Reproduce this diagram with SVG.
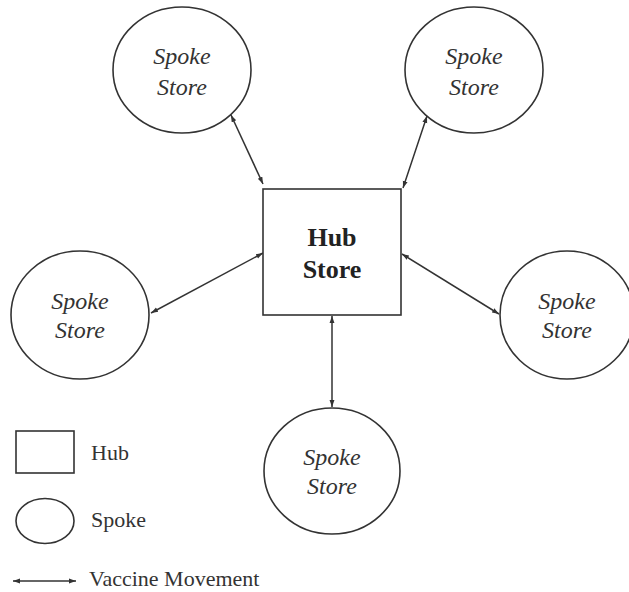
<svg xmlns="http://www.w3.org/2000/svg" width="629" height="592" viewBox="0 0 629 592">
<style>
.shape{fill:#fff;stroke:#333;stroke-width:1.6}
.sp{font-family:"Liberation Serif",serif;font-style:italic;font-size:24px;fill:#333;text-anchor:middle}
.hub{font-family:"Liberation Serif",serif;font-weight:bold;font-size:26px;fill:#222;text-anchor:middle}
.lg{font-family:"Liberation Serif",serif;font-size:22px;fill:#333}
.con{stroke:#333;stroke-width:1.5;fill:none;marker-start:url(#ah);marker-end:url(#ah)}
</style>
<defs>
<marker id="ah" viewBox="0 0 10 10" refX="10" refY="5" markerWidth="7" markerHeight="7" markerUnits="userSpaceOnUse" orient="auto-start-reverse">
<path d="M0,1.5 L10,5 L0,8.5 z" fill="#333"/>
</marker>
</defs>
<rect width="629" height="592" fill="#fff"/>
<g id="connectors">
<line class="con" x1="231" y1="115" x2="263" y2="184"/>
<line class="con" x1="403" y1="188" x2="427" y2="116"/>
<line class="con" x1="263" y1="253" x2="151" y2="313"/>
<line class="con" x1="402" y1="254" x2="499" y2="314"/>
<line class="con" x1="332" y1="316" x2="332" y2="407"/>
<line class="con" x1="13" y1="581" x2="76" y2="581"/>
</g>
<g id="hub">
<rect class="shape" x="263" y="189" width="138" height="126"/>
<text class="hub" x="332" y="246">Hub</text>
<text class="hub" x="332" y="278">Store</text>
</g>
<g id="spoke-top-left">
<ellipse class="shape" cx="182" cy="70" rx="69" ry="63"/>
<text class="sp" x="182" y="64">Spoke</text>
<text class="sp" x="182" y="95">Store</text>
</g>
<g id="spoke-top-right">
<ellipse class="shape" cx="474" cy="70" rx="69" ry="63"/>
<text class="sp" x="474" y="64">Spoke</text>
<text class="sp" x="474" y="95">Store</text>
</g>
<g id="spoke-left">
<ellipse class="shape" cx="80" cy="315" rx="69" ry="64"/>
<text class="sp" x="80" y="309">Spoke</text>
<text class="sp" x="80" y="338">Store</text>
</g>
<g id="spoke-right">
<ellipse class="shape" cx="567" cy="315" rx="67" ry="64"/>
<text class="sp" x="567" y="309">Spoke</text>
<text class="sp" x="567" y="338">Store</text>
</g>
<g id="spoke-bottom">
<ellipse class="shape" cx="332" cy="471" rx="68" ry="63"/>
<text class="sp" x="332" y="465">Spoke</text>
<text class="sp" x="332" y="494">Store</text>
</g>
<g id="legend">
<rect class="shape" x="16" y="431" width="58" height="42"/>
<text class="lg" x="91" y="460">Hub</text>
<ellipse class="shape" cx="45" cy="521" rx="29" ry="22.5"/>
<text class="lg" x="91" y="527">Spoke</text>
<text class="lg" x="89" y="586">Vaccine Movement</text>
</g>
</svg>
